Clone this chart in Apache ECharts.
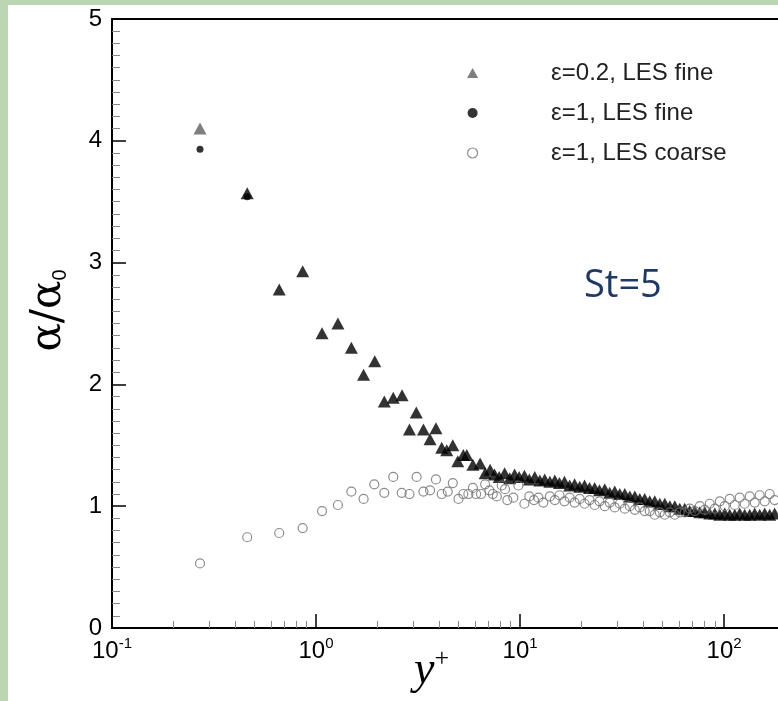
<!DOCTYPE html>
<html lang="en">

<head>
  <meta charset="UTF-8">
  <title>St=5</title>
  <script src="https://cdn.jsdelivr.net/npm/echarts@6/dist/echarts.min.js"></script>
  <style>
    body { margin: 0; }
  </style>
</head>

<body>
  <div id="main" style="width: 778px; height: 701px"></div>

  <script>
    // y+ (log axis) and alpha/alpha0
    let triX = [0.27, 0.46, 0.66, 0.86, 1.07, 1.28, 1.49, 1.71, 1.94, 2.16, 2.39, 2.64, 2.87, 3.10, 3.36, 3.62, 3.87, 4.13, 4.37, 4.68, 4.95, 5.27, 5.48, 5.87, 6.37, 6.74, 7.13,
      7.5, 7.9, 8.4, 8.9, 9.4, 9.9, 10.5, 11.1, 11.8, 12.5, 13.2, 14.0, 14.8, 15.6, 16.5, 17.5, 18.5, 19.6, 20.7, 21.9, 23.2, 24.5, 26.0, 27.5, 29.1, 30.8,
      32.6, 34.5, 36.5, 38.6, 40.8, 43.2, 45.7, 48.4, 51.2, 54.2, 57.3, 60.6, 64.1, 67.8, 71.8, 76.0, 80.4, 85.0, 90.0, 95.2, 100.7, 106.5, 112.7, 119.2,
      126.1, 133.5, 141.2, 149.4, 158.1, 167.2, 176.9]
    let triY = [4.10, 3.57, 2.78, 2.93, 2.42, 2.50, 2.30, 2.08, 2.19, 1.86, 1.89, 1.91, 1.63, 1.77, 1.63, 1.55, 1.64, 1.48, 1.46, 1.50, 1.37, 1.42, 1.42, 1.34, 1.35, 1.27, 1.30,
      1.26, 1.24, 1.27, 1.23, 1.26, 1.24, 1.25, 1.22, 1.24, 1.21, 1.22, 1.20, 1.21, 1.19, 1.20, 1.17, 1.18, 1.16, 1.17, 1.15, 1.15, 1.13, 1.14, 1.11, 1.12, 1.10,
      1.10, 1.08, 1.08, 1.06, 1.06, 1.04, 1.04, 1.02, 1.02, 1.00, 1.00, 0.98, 0.98, 0.96, 0.96, 0.95, 0.95, 0.94, 0.94, 0.93, 0.94, 0.93, 0.93, 0.94,
      0.93, 0.93, 0.94, 0.93, 0.94, 0.93, 0.94]

    let dotX = [0.27, 0.46]
    let dotY = [3.93, 3.54]

    let circX = [0.27, 0.46, 0.66, 0.86, 1.07, 1.28, 1.49, 1.71, 1.93, 2.16, 2.39, 2.63, 2.87, 3.11, 3.36, 3.62, 3.87, 4.13, 4.42, 4.68, 4.99, 5.27, 5.58, 5.87,
      6.09, 6.44, 6.74, 7.07, 7.35, 7.69, 8.13, 8.44, 8.66, 9.27, 9.81, 10.5, 11.1, 11.7, 12.3, 13.0,
      14.0, 14.8, 15.6, 16.5, 17.5, 18.5, 19.6, 20.7, 21.9, 23.2, 24.5, 26.0, 27.5, 29.1, 30.8, 32.6, 34.5, 36.5, 38.6, 40.8, 43.2, 45.7, 48.4, 51.2,
      54.2, 57.3, 60.6, 64.1, 67.8, 71.8, 76.0, 80.4, 85.0, 90.0, 95.2, 100.7, 106.5, 112.7, 119.2, 126.1, 133.5, 141.2, 149.4, 158.1, 167.2, 176.9]
    let circY = [0.53, 0.745, 0.78, 0.82, 0.96, 1.01, 1.12, 1.06, 1.18, 1.11, 1.24, 1.11, 1.10, 1.24, 1.12, 1.13, 1.22, 1.10, 1.12, 1.19, 1.06, 1.10, 1.10, 1.15,
      1.10, 1.10, 1.18, 1.13, 1.10, 1.08, 1.17, 1.14, 1.05, 1.07, 1.17, 1.02, 1.08, 1.05, 1.07, 1.03,
      1.08, 1.05, 1.09, 1.04, 1.07, 1.03, 1.06, 1.02, 1.05, 1.01, 1.04, 1.00, 1.03, 0.99, 1.02, 0.98, 1.00, 0.97, 0.99, 0.96, 0.96, 0.93, 0.95, 0.93,
      0.95, 0.93, 0.95, 0.95, 0.98, 0.96, 1.00, 0.97, 1.02, 0.98, 1.04, 1.00, 1.06, 1.01, 1.07, 1.02, 1.08, 1.03, 1.09, 1.04, 1.10, 1.05]

    let majorTicks = [0.1, 1, 10, 100]
    let minorTicks = [0.2, 0.3, 0.4, 0.5, 0.6, 0.7, 0.8, 0.9, 2, 3, 4, 5, 6, 7, 8, 9, 20, 30, 40, 50, 60, 70, 80, 90]

    let names = ['ε=0.2, LES fine', 'ε=1, LES fine', 'ε=1, LES coarse']

    const pairs = (xs, ys) => xs.map((x, i) => [x, ys[i]])

    let myECharts = echarts.init(document.getElementById('main'))
    const font = 'Liberation Sans, Arial, sans-serif'

    let option = {
      backgroundColor: '#bcd6b4',
      animation: false,
      graphic: [{
        type: 'rect', left: 8, top: 5, z: -1, silent: true,
        shape: { width: 770, height: 696 },
        style: { fill: '#fff' }
      }],
      title: {
        text: 'St=5',
        left: 579, top: 262,
        textStyle: { fontSize: 38, fontWeight: 'normal', color: '#1f3864', fontFamily: 'Open Sans' }
      },
      legend: {
        orient: 'vertical',
        left: 462, top: 56,
        itemWidth: 11, itemHeight: 10, itemGap: 16,
        textStyle: { fontSize: 24, color: '#222', fontFamily: font, padding: [0, 0, 0, 68] },
        data: [
          { name: names[0], icon: 'triangle', itemStyle: { color: '#5e5e5e' } },
          { name: names[1], icon: 'circle', itemStyle: { color: '#000' } },
          { name: names[2], icon: 'circle', itemStyle: { color: 'rgba(0,0,0,0)', borderColor: '#707070', borderWidth: 1.2 } }
        ]
      },
      grid: {
        left: 112, right: -3, top: 19, bottom: 73,
        outerBoundsMode: 'none',
        containLabel: false,
        show: true, borderColor: '#000', borderWidth: 2
      },
      xAxis: [{
        type: 'log', logBase: 10, min: 0.1, max: 190,
        position: 'bottom',
        axisLine: { lineStyle: { color: '#000', width: 2 } },
        axisTick: { inside: true, length: 14, customValues: majorTicks, lineStyle: { color: '#000', width: 1.5 } },
        axisLabel: {
          customValues: majorTicks,
          margin: 8,
          formatter: v => '{b|10}{s|' + Math.round(Math.log10(v)) + '}',
          rich: {
            b: { fontSize: 24, color: '#000', fontFamily: font, verticalAlign: 'bottom' },
            s: { fontSize: 15, color: '#000', fontFamily: font, verticalAlign: 'bottom', padding: [0, 0, 12, 0] }
          }
        },
        splitLine: { show: false },
        name: '{i|y}{p|+}',
        nameLocation: 'middle',
        nameMoveOverlap: false,
        nameGap: 18,
        nameTextStyle: {
          padding: [0, 30, 0, 0],
          rich: {
            i: { fontSize: 46, fontStyle: 'italic', fontFamily: 'Liberation Serif', color: '#000', verticalAlign: 'bottom' },
            p: { fontSize: 26, fontFamily: 'Liberation Serif', color: '#000', verticalAlign: 'bottom', padding: [0, 0, 22, 0] }
          }
        }
      }, {
        type: 'log', logBase: 10, min: 0.1, max: 190,
        position: 'bottom',
        axisLine: { show: false },
        axisTick: { inside: true, length: 7, customValues: minorTicks, lineStyle: { color: '#888' } },
        axisLabel: { show: false },
        splitLine: { show: false }
      }],
      yAxis: {
        type: 'value', min: 0, max: 5, interval: 1,
        axisLine: { show: true, lineStyle: { color: '#000', width: 2 } },
        axisTick: { show: true, inside: true, length: 14, lineStyle: { color: '#000', width: 1.5 } },
        minorTick: { show: true, splitNumber: 10, length: 8, lineStyle: { color: '#888' } },
        splitLine: { show: false },
        axisLabel: { fontSize: 24, color: '#000', fontFamily: font, margin: 10 },
        name: '{a|α/α}{s|0}',
        nameLocation: 'middle',
        nameMoveOverlap: false,
        nameGap: 42,
        nameTextStyle: {
          padding: [0, 0, 0, 26],
          rich: {
            a: { fontSize: 42, fontFamily: 'DejaVu Serif', color: '#000', verticalAlign: 'bottom' },
            s: { fontSize: 20, fontFamily: font, color: '#000', verticalAlign: 'bottom' }
          }
        }
      },
      series: [{
        type: 'scatter',
        name: names[0],
        data: pairs(triX, triY),
        symbol: 'triangle',
        symbolSize: [13, 12],
        itemStyle: { color: p => p.dataIndex === 0 ? '#5e5e5e' : '#000' }
      }, {
        type: 'scatter',
        name: names[1],
        data: pairs(dotX, dotY),
        symbol: 'circle',
        symbolSize: 7,
        itemStyle: { color: '#000' }
      }, {
        type: 'scatter',
        name: names[2],
        data: pairs(circX, circY),
        symbol: 'circle',
        symbolSize: 9,
        itemStyle: { color: 'rgba(0,0,0,0)', borderColor: '#707070', borderWidth: 1.2 }
      }]
    }
    myECharts.setOption(option)
  </script>
</body>

</html>
